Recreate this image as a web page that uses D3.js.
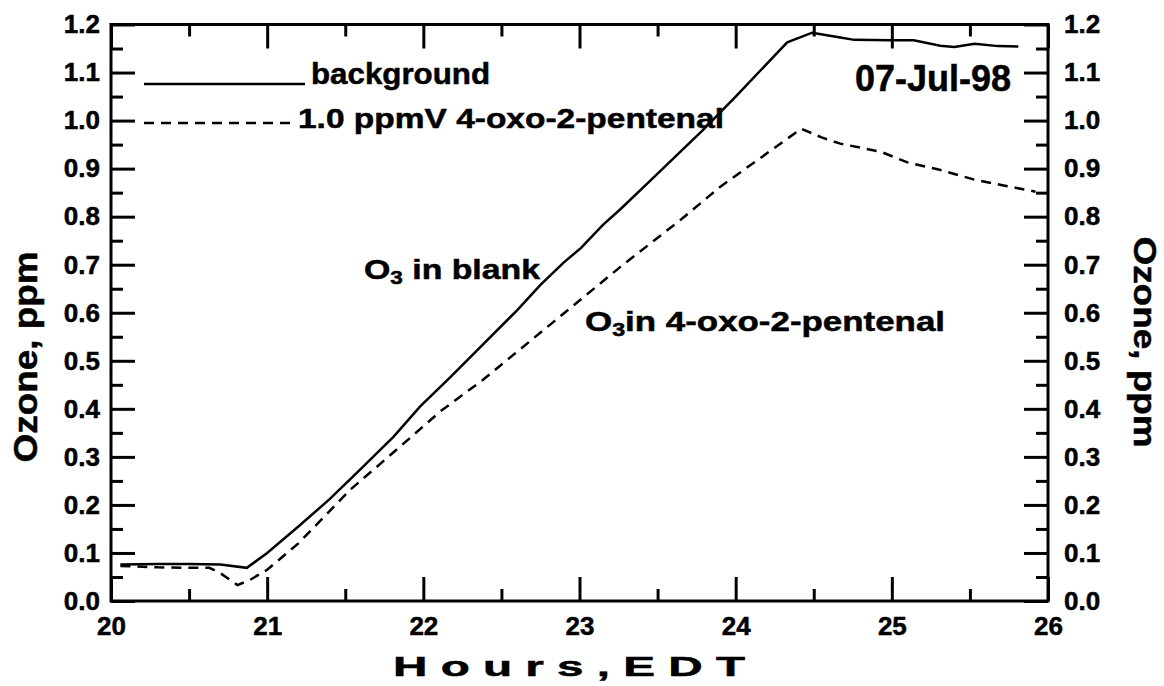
<!DOCTYPE html>
<html>
<head>
<meta charset="utf-8">
<script src="https://cdn.jsdelivr.net/npm/d3@7"></script>
<style>
  body { margin: 0; background: white; }
  svg { font-family: "Liberation Sans", Arial, sans-serif; font-weight: bold; }
  svg text { fill: #000; stroke: #000; stroke-width: 0.5; }
  .axis text { font-size: 26px; font-weight: bold; }
  .axis line { stroke: #000; stroke-width: 3; }
</style>
</head>
<body>
<div id="container"></div>
<script>
// O3 in blank (background)
const blankHours = [20.06, 20.3, 20.5, 20.7, 20.87, 21.0, 21.2, 21.4, 21.6, 21.81, 21.98, 22.17, 22.4, 22.6, 22.75, 22.9, 23.01, 23.15, 23.26, 23.46, 23.79, 24.0, 24.33, 24.49, 24.67, 24.76, 24.99, 25.14, 25.31, 25.40, 25.53, 25.68, 25.81]
const blankO3 = [0.076, 0.077, 0.077, 0.076, 0.069, 0.10, 0.155, 0.212, 0.275, 0.342, 0.405, 0.465, 0.54, 0.605, 0.658, 0.705, 0.735, 0.783, 0.815, 0.877, 0.98, 1.05, 1.163, 1.183, 1.173, 1.168, 1.167, 1.167, 1.156, 1.153, 1.16, 1.155, 1.154]

// O3 in 1.0 ppmV 4-oxo-2-pentenal
const oxoHours = [20.06, 20.3, 20.5, 20.63, 20.70, 20.81, 20.89, 21.0, 21.2, 21.53, 21.85, 22.11, 22.38, 22.83, 23.26, 23.65, 23.90, 24.42, 24.55, 24.67, 24.93, 25.10, 25.30, 25.53, 25.70, 25.92]
const oxoO3 = [0.073, 0.070, 0.069, 0.069, 0.058, 0.033, 0.044, 0.065, 0.12, 0.231, 0.321, 0.395, 0.46, 0.58, 0.695, 0.794, 0.862, 0.983, 0.965, 0.952, 0.935, 0.913, 0.898, 0.877, 0.866, 0.852]

const xMajor = [20, 21, 22, 23, 24, 25, 26]
const xMinor = [20.5, 21.5, 22.5, 23.5, 24.5, 25.5]
const yMajor = [0, 0.1, 0.2, 0.3, 0.4, 0.5, 0.6, 0.7, 0.8, 0.9, 1.0, 1.1, 1.2]
const yMinor = [0.05, 0.15, 0.25, 0.35, 0.45, 0.55, 0.65, 0.75, 0.85, 0.95, 1.05, 1.15]

const w = 1164
const h = 686
const padLeft = 111, padRight = 1048, padTop = 24.5, padBottom = 601

const svg = d3.select('#container')
  .append('svg')
    .attr('width', w)
    .attr('height', h)

const x = d3.scaleLinear().domain([20, 26]).range([padLeft, padRight])
const y = d3.scaleLinear().domain([0, 1.2]).range([padBottom, padTop])

// ticks, all pointing inward
const addAxis = (axis, tx, ty) =>
  svg.append('g')
    .attr('class', 'axis')
    .attr('transform', `translate(${tx}, ${ty})`)
    .call(axis)
    .call(g => g.select('.domain').remove())

addAxis(d3.axisBottom(x).tickValues(xMajor).tickSize(-24).tickPadding(16).tickFormat(d3.format('d')), 0, padBottom)
addAxis(d3.axisBottom(x).tickValues(xMinor).tickSize(-12).tickFormat(''), 0, padBottom)
addAxis(d3.axisTop(x).tickValues(xMajor).tickSize(-24).tickFormat(''), 0, padTop)
addAxis(d3.axisTop(x).tickValues(xMinor).tickSize(-12).tickFormat(''), 0, padTop)
addAxis(d3.axisLeft(y).tickValues(yMajor).tickSize(-24).tickPadding(11).tickFormat(d3.format('.1f')), padLeft, 0)
addAxis(d3.axisLeft(y).tickValues(yMinor).tickSize(-12).tickFormat(''), padLeft, 0)
addAxis(d3.axisRight(y).tickValues(yMajor).tickSize(-24).tickPadding(16).tickFormat(d3.format('.1f')), padRight, 0)
addAxis(d3.axisRight(y).tickValues(yMinor).tickSize(-12).tickFormat(''), padRight, 0)

svg.append('rect')
  .attr('x', padLeft)
  .attr('y', padTop)
  .attr('width', padRight - padLeft)
  .attr('height', padBottom - padTop)
  .attr('fill', 'none')
  .attr('stroke', '#000')
  .attr('stroke-width', 3)

const line = d3.line()
  .x(d => x(d[0]))
  .y(d => y(d[1]))

svg.append('path')
  .datum(d3.zip(blankHours, blankO3))
  .attr('d', line)
  .attr('fill', 'none')
  .attr('stroke', '#000')
  .attr('stroke-width', 2.5)

svg.append('path')
  .datum(d3.zip(oxoHours, oxoO3))
  .attr('d', line)
  .attr('fill', 'none')
  .attr('stroke', '#000')
  .attr('stroke-width', 2.5)
  .attr('stroke-dasharray', '10,7')

// legend
svg.append('line')
  .attr('x1', 144).attr('x2', 305).attr('y1', 84).attr('y2', 84)
  .attr('stroke', '#000').attr('stroke-width', 2.5)
svg.append('line')
  .attr('x1', 144).attr('x2', 297).attr('y1', 123).attr('y2', 123)
  .attr('stroke', '#000').attr('stroke-width', 2.5)
  .attr('stroke-dasharray', '10,7')

const label = (txt, tx, ty, size, len) => {
  const t = svg.append('text')
    .attr('x', tx).attr('y', ty)
    .attr('font-size', size)
    .text(txt)
  if (len) t.attr('textLength', len).attr('lengthAdjust', 'spacingAndGlyphs')
  return t
}

label('background', 311, 84, 29, 179)
label('1.0 ppmV 4-oxo-2-pentenal', 298, 128, 27, 426)
label('07-Jul-98', 1011, 91, 36).attr('text-anchor', 'end')

const o3Label = (rest, tx, ty, len) => {
  const t = svg.append('text')
    .attr('x', tx).attr('y', ty)
    .attr('font-size', 27)
    .attr('textLength', len).attr('lengthAdjust', 'spacingAndGlyphs')
  t.append('tspan').text('O')
  t.append('tspan').attr('font-size', 18).attr('dy', 5).text('3')
  t.append('tspan').attr('dy', -5).text(rest)
}
o3Label(' in blank', 364, 279, 176)
o3Label('in 4-oxo-2-pentenal', 585, 331, 360)

// axis titles
label('H o u r s ,  E D T', 393, 676, 28, 352)
svg.append('text')
  .attr('transform', 'translate(37, 357) rotate(-90)')
  .attr('text-anchor', 'middle')
  .attr('font-size', 33)
  .attr('textLength', 211).attr('lengthAdjust', 'spacingAndGlyphs')
  .text('Ozone, ppm')
svg.append('text')
  .attr('transform', 'translate(1134, 342) rotate(90)')
  .attr('text-anchor', 'middle')
  .attr('font-size', 32)
  .attr('textLength', 211).attr('lengthAdjust', 'spacingAndGlyphs')
  .text('Ozone, ppm')
</script>
</body>
</html>
